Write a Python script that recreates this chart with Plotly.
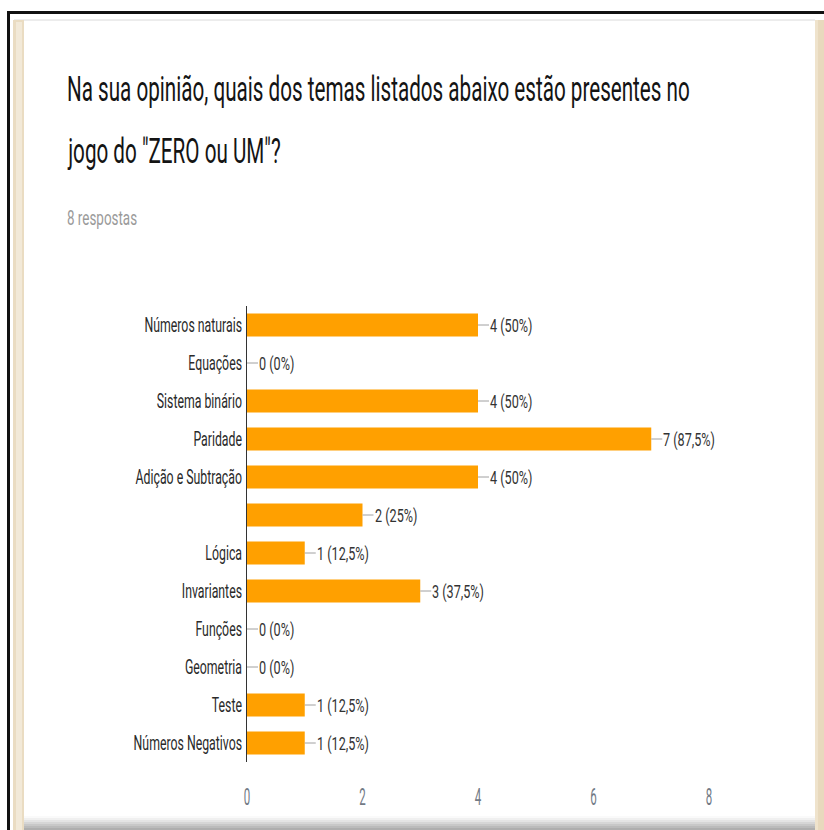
import plotly.graph_objects as go

categories = ["Números naturais", "Equações", "Sistema binário", "Paridade",
              "Adição e Subtração", "", "Lógica", "Invariantes", "Funções",
              "Geometria", "Teste", "Números Negativos"]
counts = [4, 0, 4, 7, 4, 2, 1, 3, 0, 0, 1, 1]
percents = ["50%", "0%", "50%", "87,5%", "50%", "25%", "12,5%", "37,5%",
            "0%", "0%", "12,5%", "12,5%"]
x_ticks = [0, 2, 4, 6, 8]
title_lines = ["Na sua opinião, quais dos temas listados abaixo estão presentes no",
               "jogo do \"ZERO ou UM\"?"]
subtitle = "8 respostas"

FONT = "Roboto, Liberation Sans, Arial, sans-serif"
W, H = 824, 830
L, R, T, B = 247, 709, 306, 762

# font size -> horizontal squeeze factor (reference text is horizontally condensed)
SQUEEZE = {35: 0.59, 21: 0.64, 20: 0.615, 19: 0.665, 24: 0.48}

def px(x):
    return (x - L) / (R - L)

def py(y):
    return (B - y) / (B - T)

ypos = list(range(len(categories)))

fig = go.Figure(go.Bar(
    x=counts, y=ypos, orientation="h",
    marker=dict(color="#FFA000", line=dict(width=0)),
    width=0.6, hoverinfo="skip",
))

annotations = []
shapes = []
for yi, c, p in zip(ypos, counts, percents):
    shapes.append(dict(type="line", xref="x", yref="y", xsizemode="pixel", xanchor=c,
                       x0=0, x1=11, y0=yi, y1=yi, line=dict(color="#a0a0a0", width=1)))
    annotations.append(dict(
        x=c, y=yi, xref="x", yref="y", xanchor="left", yanchor="middle", align="left",
        text=f"{c} ({p})", showarrow=False, xshift=11, borderpad=0,
        font=dict(family=FONT, size=19, color="#333333"),
    ))

for i, line in enumerate(title_lines):
    annotations.append(dict(x=px(66), y=py(89 + 63 * i), xref="paper", yref="paper",
                            xanchor="left", yanchor="middle", align="left", text=line,
                            showarrow=False, borderpad=0,
                            font=dict(family=FONT, size=35, color="#141414")))
annotations.append(dict(x=px(66), y=py(218), xref="paper", yref="paper",
                        xanchor="left", yanchor="middle", align="left", text=subtitle,
                        showarrow=False, borderpad=0,
                        font=dict(family=FONT, size=21, color="#9a9a9a")))

def rect(x0, y0, x1, y1, color):
    shapes.append(dict(type="rect", xref="paper", yref="paper",
                       x0=px(x0), x1=px(x1), y0=py(y0), y1=py(y1),
                       fillcolor=color, line=dict(width=0), layer="above"))

# outer frame
rect(7, 11, 824, 14, "#111111")
rect(7, 11, 10, 830, "#111111")
rect(14, 19, 815, 21, "#ececec")
# beige side strips
rect(13, 20, 24, 830, "#eadcc2")
rect(16, 22, 22, 830, "#f2e9d8")
rect(815, 20, 824, 830, "#e8d9bd")
rect(815, 20, 818, 830, "#efe3cc")
# bottom shadow gradient
greys = ["#fafafa", "#f0f0f0", "#e4e4e4", "#d6d6d6", "#c8c8c8", "#bbbbbb", "#aeaeae"]
for i, g in enumerate(greys):
    rect(24, 816 + 2 * i, 815, 818 + 2 * i, g)

fig.update_layout(
    width=W, height=H,
    margin=dict(l=L, r=W - R, t=T, b=H - B, pad=0),
    paper_bgcolor="white", plot_bgcolor="white",
    showlegend=False, bargap=0.4,
    annotations=annotations, shapes=shapes,
    xaxis=dict(range=[0, 8], tickvals=x_ticks, ticktext=[str(v) for v in x_ticks],
               showgrid=False, zeroline=False, showline=False, ticks="",
               tickfont=dict(family=FONT, size=24, color="#727a85"), ticklabelstandoff=18,
               fixedrange=True),
    yaxis=dict(tickvals=ypos, ticktext=categories, range=[len(categories) - 0.5, -0.5],
               showgrid=False, zeroline=False, showline=True, linecolor="#333333",
               linewidth=1, ticks="", ticklabelstandoff=0,
               tickfont=dict(family=FONT, size=20, color="#2a2a2a"), fixedrange=True),
)

post = """
document.body.style.margin = '0';
var gd = document.getElementById('{plot_id}');
var map = %s;
gd.querySelectorAll('svg text').forEach(function (t) {
  if (!t.textContent) { return; }
  var fs = Math.round(parseFloat(t.style.fontSize || '0'));
  var s = map[fs];
  if (!s) { return; }
  var bb = t.getBBox();
  var a = t.getAttribute('text-anchor') || 'start';
  var ax = bb.x;
  if (a === 'end') { ax = bb.x + bb.width; }
  else if (a === 'middle') { ax = bb.x + bb.width / 2; }
  var cur = t.getAttribute('transform') || '';
  t.setAttribute('transform', cur + ' translate(' + ax + ',0) scale(' + s + ',1) translate(' + (-ax) + ',0)');
});
""" % ("{" + ",".join(f"{k}:{v}" for k, v in SQUEEZE.items()) + "}")

fig.write_html("out.html", post_script=post, config={"displayModeBar": False})
